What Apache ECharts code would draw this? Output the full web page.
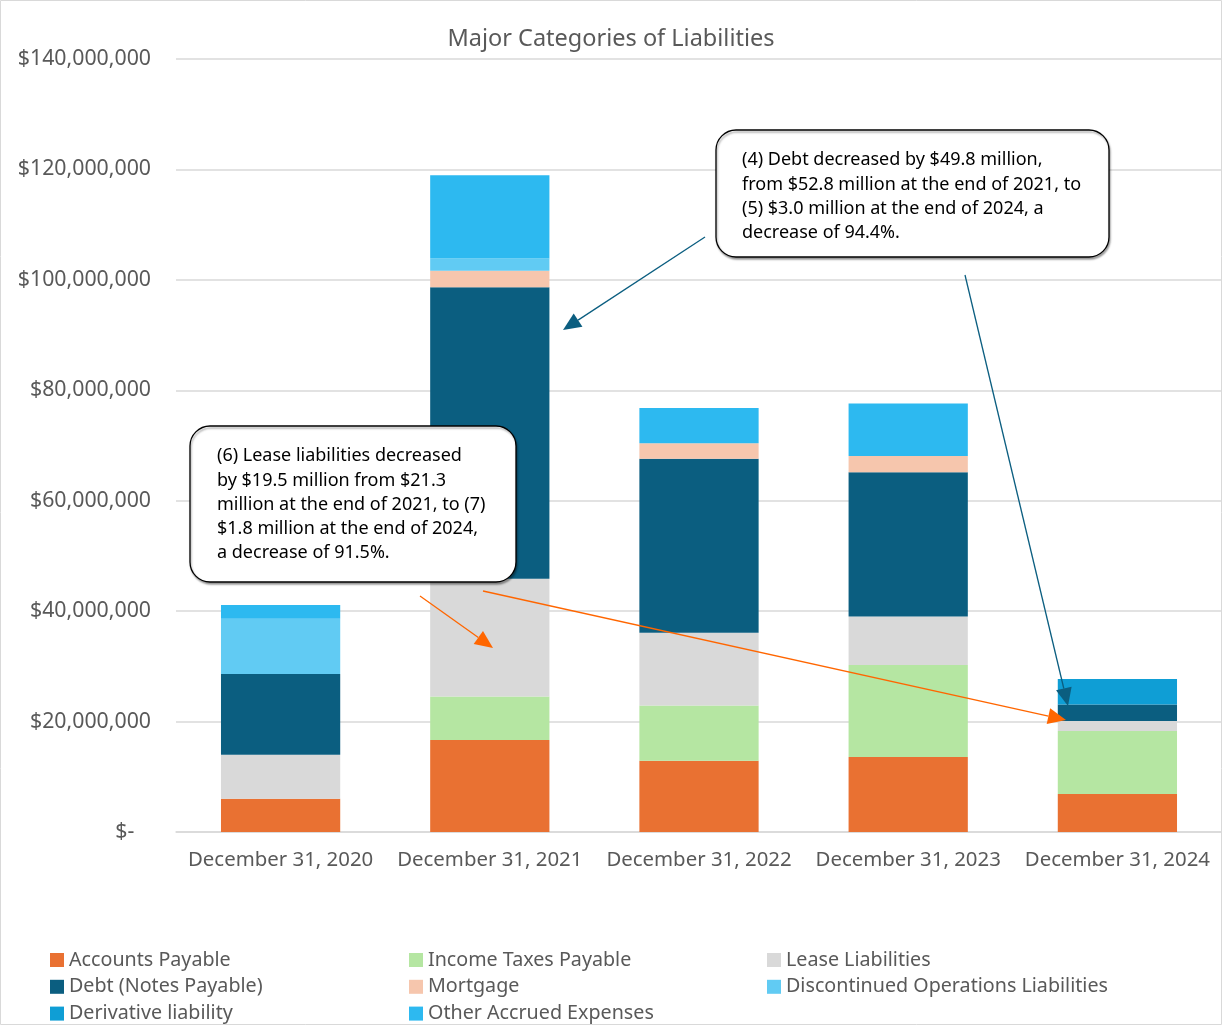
<!DOCTYPE html>
<html><head><meta charset="utf-8">
<script src="https://cdn.jsdelivr.net/npm/echarts@6/dist/echarts.min.js"></script>
<style>html,body{margin:0;padding:0;background:#fff}#c{width:1222px;height:1026px}</style>
</head><body><div id="c"></div>
<script>
const categories = ['December 31, 2020','December 31, 2021','December 31, 2022','December 31, 2023','December 31, 2024'];
const accountsPayable   = [6000000, 16650000, 12900000, 13600000, 6900000];
const incomeTaxes       = [0, 7900000, 10000000, 16650000, 11400000];
const leaseLiabilities  = [8000000, 21300000, 13200000, 8800000, 1800000];
const debtNotes         = [14600000, 52800000, 31500000, 26100000, 3000000];
const mortgage          = [0, 3000000, 2800000, 2950000, 0];
const discontinuedOps   = [10000000, 2200000, 0, 0, 0];
const derivative        = [0, 0, 0, 0, 4600000];
const otherAccrued      = [2500000, 15100000, 6400000, 9500000, 0];
const yTicks = [0, 20000000, 40000000, 60000000, 80000000, 100000000, 120000000, 140000000];

const seriesDefs = [
  ['Accounts Payable', accountsPayable, '#E97132'],
  ['Income Taxes Payable', incomeTaxes, '#B5E6A2'],
  ['Lease Liabilities', leaseLiabilities, '#D9D9D9'],
  ['Debt (Notes Payable)', debtNotes, '#0B5E80'],
  ['Mortgage', mortgage, '#F6C6AD'],
  ['Discontinued Operations Liabilities', discontinuedOps, '#61CBF3'],
  ['Derivative liability', derivative, '#0F9ED5'],
  ['Other Accrued Expenses', otherAccrued, '#2DB9F0']
];

const FONT = 'Noto Sans';
const chart = echarts.init(document.getElementById('c'), null, {renderer:'canvas'});

function arrow(x1,y1,x2,y2,color,w){
  const dx=x2-x1, dy=y2-y1, L=Math.hypot(dx,dy), ux=dx/L, uy=dy/L;
  const hl=18, hw=8;
  const bx=x2-ux*hl, by=y2-uy*hl;
  return [{type:'line', shape:{x1:x1,y1:y1,x2:bx,y2:by}, style:{stroke:color,lineWidth:w}, z:100},
    {type:'polygon', shape:{points:[[x2,y2],[bx-uy*hw,by+ux*hw],[bx+uy*hw,by-ux*hw]]}, style:{fill:color}, z:100}];
}
function callout(x,y,w,h,lines,tx,ty){
  return [{type:'rect', shape:{x:x,y:y,width:w,height:h,r:20}, style:{fill:'#fff',stroke:'#000',lineWidth:1.3, shadowColor:'rgba(0,0,0,0.35)', shadowOffsetX:1, shadowOffsetY:2, shadowBlur:2}, z:101},
    {type:'text', x:tx, y:ty, style:{text:lines.join('\n'), font:'18px "'+FONT+'"', fill:'#000', lineHeight:24.3, verticalAlign:'top'}, z:102}];
}

const graphics = [
  {type:'rect', shape:{x:0.5,y:0.5,width:1221,height:1024}, style:{fill:'none',stroke:'#D9D9D9',lineWidth:1}, z:0},
  ...arrow(705,237,563,330,'#0B5E80',1.3),
  ...arrow(965,275,1068,706,'#0B5E80',1.3),
  ...arrow(420,596,493,648,'#FF6600',1.3),
  ...arrow(483,591,1066,720,'#FF6600',1.3),
  ...callout(716,130,393,127,['(4) Debt decreased by $49.8 million,','from $52.8 million at the end of 2021, to','(5) $3.0 million at the end of 2024, a','decrease of 94.4%.'],742,148),
  ...callout(190,426,326,156,['(6) Lease liabilities decreased','by $19.5 million from $21.3','million at the end of 2021, to (7)','$1.8 million at the end of 2024,','a decrease of 91.5%.'],217,444)
];

function fmt(v){
  if (v === 0) return '$-   ';
  return '$' + v.toLocaleString('en-US');
}

const legendText = {color:'#595959', fontSize:19.7, fontFamily:FONT, lineHeight:20};
function legendCol(left, names){
  return {orient:'vertical', left:left, top:950, padding:0, height:90, itemWidth:14, itemHeight:14, itemGap:6.8, icon:'rect',
    textStyle:legendText, data:names, selectedMode:false};
}

chart.setOption({
  animation:false,
  title:{text:'Major Categories of Liabilities', left:'center', top:22, textStyle:{color:'#595959', fontSize:23.5, fontWeight:'normal', fontFamily:FONT}},
  grid:{left:176, right:-3, top:59, bottom:194, containLabel:false},
  legend:[
    legendCol(50, ['Accounts Payable','Debt (Notes Payable)','Derivative liability']),
    legendCol(409, ['Income Taxes Payable','Mortgage','Other Accrued Expenses']),
    legendCol(767, ['Lease Liabilities','Discontinued Operations Liabilities'])
  ],
  xAxis:{type:'category', data:categories, axisLine:{show:true, lineStyle:{color:'#D9D9D9', width:1.5}}, axisTick:{show:false},
    axisLabel:{color:'#595959', fontSize:20.4, fontFamily:FONT, margin:18, interval:0}},
  yAxis:{type:'value', min:0, max:140000000, interval:20000000, axisLine:{show:false}, axisTick:{show:false},
    splitLine:{lineStyle:{color:'#D9D9D9', width:1.5}},
    axisLabel:{color:'#595959', fontSize:21.3, fontFamily:FONT, margin:25, padding:[4,0,0,0], formatter:fmt}},
  series: seriesDefs.map(([name,data,color]) => ({
    name:name, type:'bar', stack:'total', data:data, barWidth:'57%', itemStyle:{color:color}, emphasis:{disabled:true}
  })),
  graphic: graphics
});
</script></body></html>
